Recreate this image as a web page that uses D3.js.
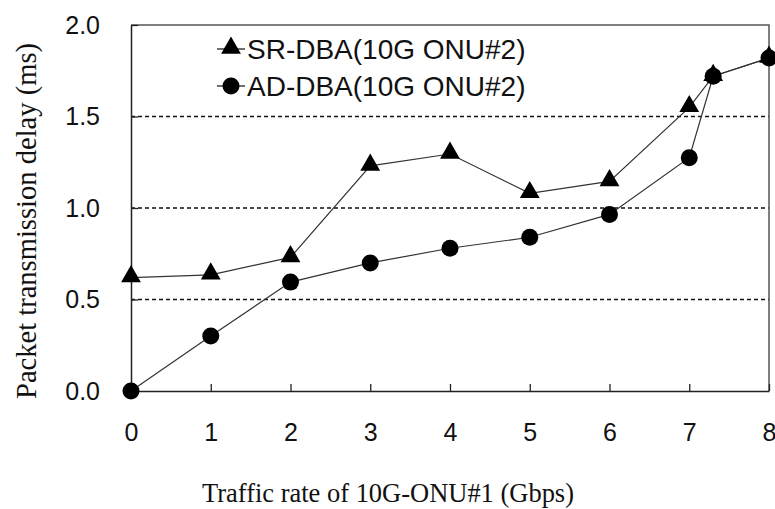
<!DOCTYPE html>
<html lang="en">
<head>
  <meta charset="UTF-8" />
  <title>Packet transmission delay</title>
  <script src="https://d3js.org/d3.v7.min.js"></script>
  <style>
    body { margin: 0; background: white; }
    svg { background: white; display: block; }
    .tick-label { font-family: "Liberation Sans", Arial, sans-serif; font-size: 25px; fill: #111; }
    .legend-label { font-family: "Liberation Sans", Arial, sans-serif; font-size: 28px; fill: #111; }
    .axis-title { font-family: "Liberation Serif", "Times New Roman", serif; font-size: 27px; fill: #111; }
    .grid line { stroke: #111; stroke-width: 1.3px; stroke-dasharray: 4,3; }
    .series-line { fill: none; stroke: #333; stroke-width: 1.2px; }
  </style>
</head>
<body>
  <svg width="775" height="509"></svg>

  <script>
    // data
    const srX = [0, 1, 2, 3, 4, 5, 6, 7, 7.3, 8];
    const srDelay = [0.62, 0.635, 0.73, 1.23, 1.295, 1.08, 1.145, 1.55, 1.72, 1.82];
    const adX = [0, 1, 2, 3, 4, 5, 6, 7, 7.3, 8];
    const adDelay = [0.0, 0.3, 0.595, 0.7, 0.78, 0.84, 0.965, 1.275, 1.72, 1.82];
    const xTicks = [0, 1, 2, 3, 4, 5, 6, 7, 8];
    const yTicks = [0, 0.5, 1.0, 1.5, 2.0];
    const gridValues = [0.5, 1.0, 1.5];
    const seriesNames = ["SR-DBA(10G ONU#2)", "AD-DBA(10G ONU#2)"];

    const svg = d3.select("svg");
    const margin = { top: 25, right: 6, bottom: 118, left: 131 };
    const width = +svg.attr("width"), height = +svg.attr("height");

    const x = d3.scaleLinear().domain([0, 8]).range([margin.left, width - margin.right]);
    const y = d3.scaleLinear().domain([0, 2]).range([height - margin.bottom, margin.top]);

    // dashed grid lines
    svg.append("g").attr("class", "grid")
      .selectAll("line").data(gridValues).enter().append("line")
      .attr("x1", x(0)).attr("x2", x(8))
      .attr("y1", d => y(d)).attr("y2", d => y(d));

    // frame: top and right
    svg.append("path")
      .attr("d", `M${x(0)},${y(2)}H${x(8)}V${y(0)}`)
      .attr("fill", "none").attr("stroke", "#555").attr("stroke-width", 1.5);

    // x axis, ticks pointing inward
    const xAxis = svg.append("g")
      .attr("transform", `translate(0,${y(0)})`)
      .call(d3.axisBottom(x).tickValues(xTicks).tickSizeInner(-7).tickSizeOuter(0).tickPadding(32));
    xAxis.select(".domain").attr("stroke", "#222").attr("stroke-width", 1.5);
    xAxis.selectAll(".tick line").attr("stroke", "#222").attr("stroke-width", 1.3);
    xAxis.selectAll(".tick text").attr("class", "tick-label").attr("fill", null);

    // y axis
    const yAxis = svg.append("g")
      .attr("transform", `translate(${x(0)},0)`)
      .call(d3.axisLeft(y).tickValues(yTicks).tickFormat(d3.format(".1f")).tickSizeInner(-7).tickSizeOuter(0).tickPadding(31));
    yAxis.select(".domain").attr("stroke", "#222").attr("stroke-width", 1.5);
    yAxis.selectAll(".tick line").attr("stroke", "#222").attr("stroke-width", 1.3);
    yAxis.selectAll(".tick text").attr("class", "tick-label").attr("fill", null);

    const line = d3.line().x(d => x(d[0])).y(d => y(d[1]));
    const srData = srX.map((v, i) => [v, srDelay[i]]);
    const adData = adX.map((v, i) => [v, adDelay[i]]);

    svg.append("path").datum(srData).attr("class", "series-line").attr("d", line);
    svg.append("path").datum(adData).attr("class", "series-line").attr("d", line);

    const tri = d3.symbol().type(d3.symbolTriangle).size(170);

    svg.selectAll(".ad-dot").data(adData).enter().append("circle")
      .attr("class", "ad-dot")
      .attr("cx", d => x(d[0])).attr("cy", d => y(d[1]))
      .attr("r", 8.5).attr("fill", "#000");

    svg.selectAll(".sr-tri").data(srData).enter().append("path")
      .attr("class", "sr-tri")
      .attr("transform", d => `translate(${x(d[0])},${y(d[1]) - 1})`)
      .attr("d", tri).attr("fill", "#000");

    // legend
    const legend = svg.append("g").attr("transform", "translate(217,0)");
    const legendY = [49, 86];
    seriesNames.forEach((name, i) => {
      const g = legend.append("g").attr("transform", `translate(0,${legendY[i]})`);
      g.append("line").attr("x1", 0).attr("x2", 28).attr("y1", 0).attr("y2", 0)
        .attr("stroke", "#222").attr("stroke-width", 1.3);
      if (i === 0) {
        g.append("path").attr("transform", "translate(14,-1)").attr("d", tri).attr("fill", "#000");
      } else {
        g.append("circle").attr("cx", 14).attr("cy", 0).attr("r", 8.5).attr("fill", "#000");
      }
      g.append("text").attr("class", "legend-label")
        .attr("x", 30).attr("y", 0).attr("dy", "0.35em").text(name);
    });

    // axis titles
    svg.append("text").attr("class", "axis-title")
      .attr("x", 388).attr("y", 502)
      .attr("text-anchor", "middle")
      .attr("textLength", 372)
      .attr("lengthAdjust", "spacingAndGlyphs")
      .text("Traffic rate of 10G-ONU#1 (Gbps)");

    svg.append("text").attr("class", "axis-title")
      .attr("transform", "translate(36,221) rotate(-90)")
      .attr("text-anchor", "middle")
      .attr("textLength", 356)
      .attr("lengthAdjust", "spacingAndGlyphs")
      .style("font-size", "30px")
      .text("Packet transmission delay (ms)");
  </script>
</body>
</html>
